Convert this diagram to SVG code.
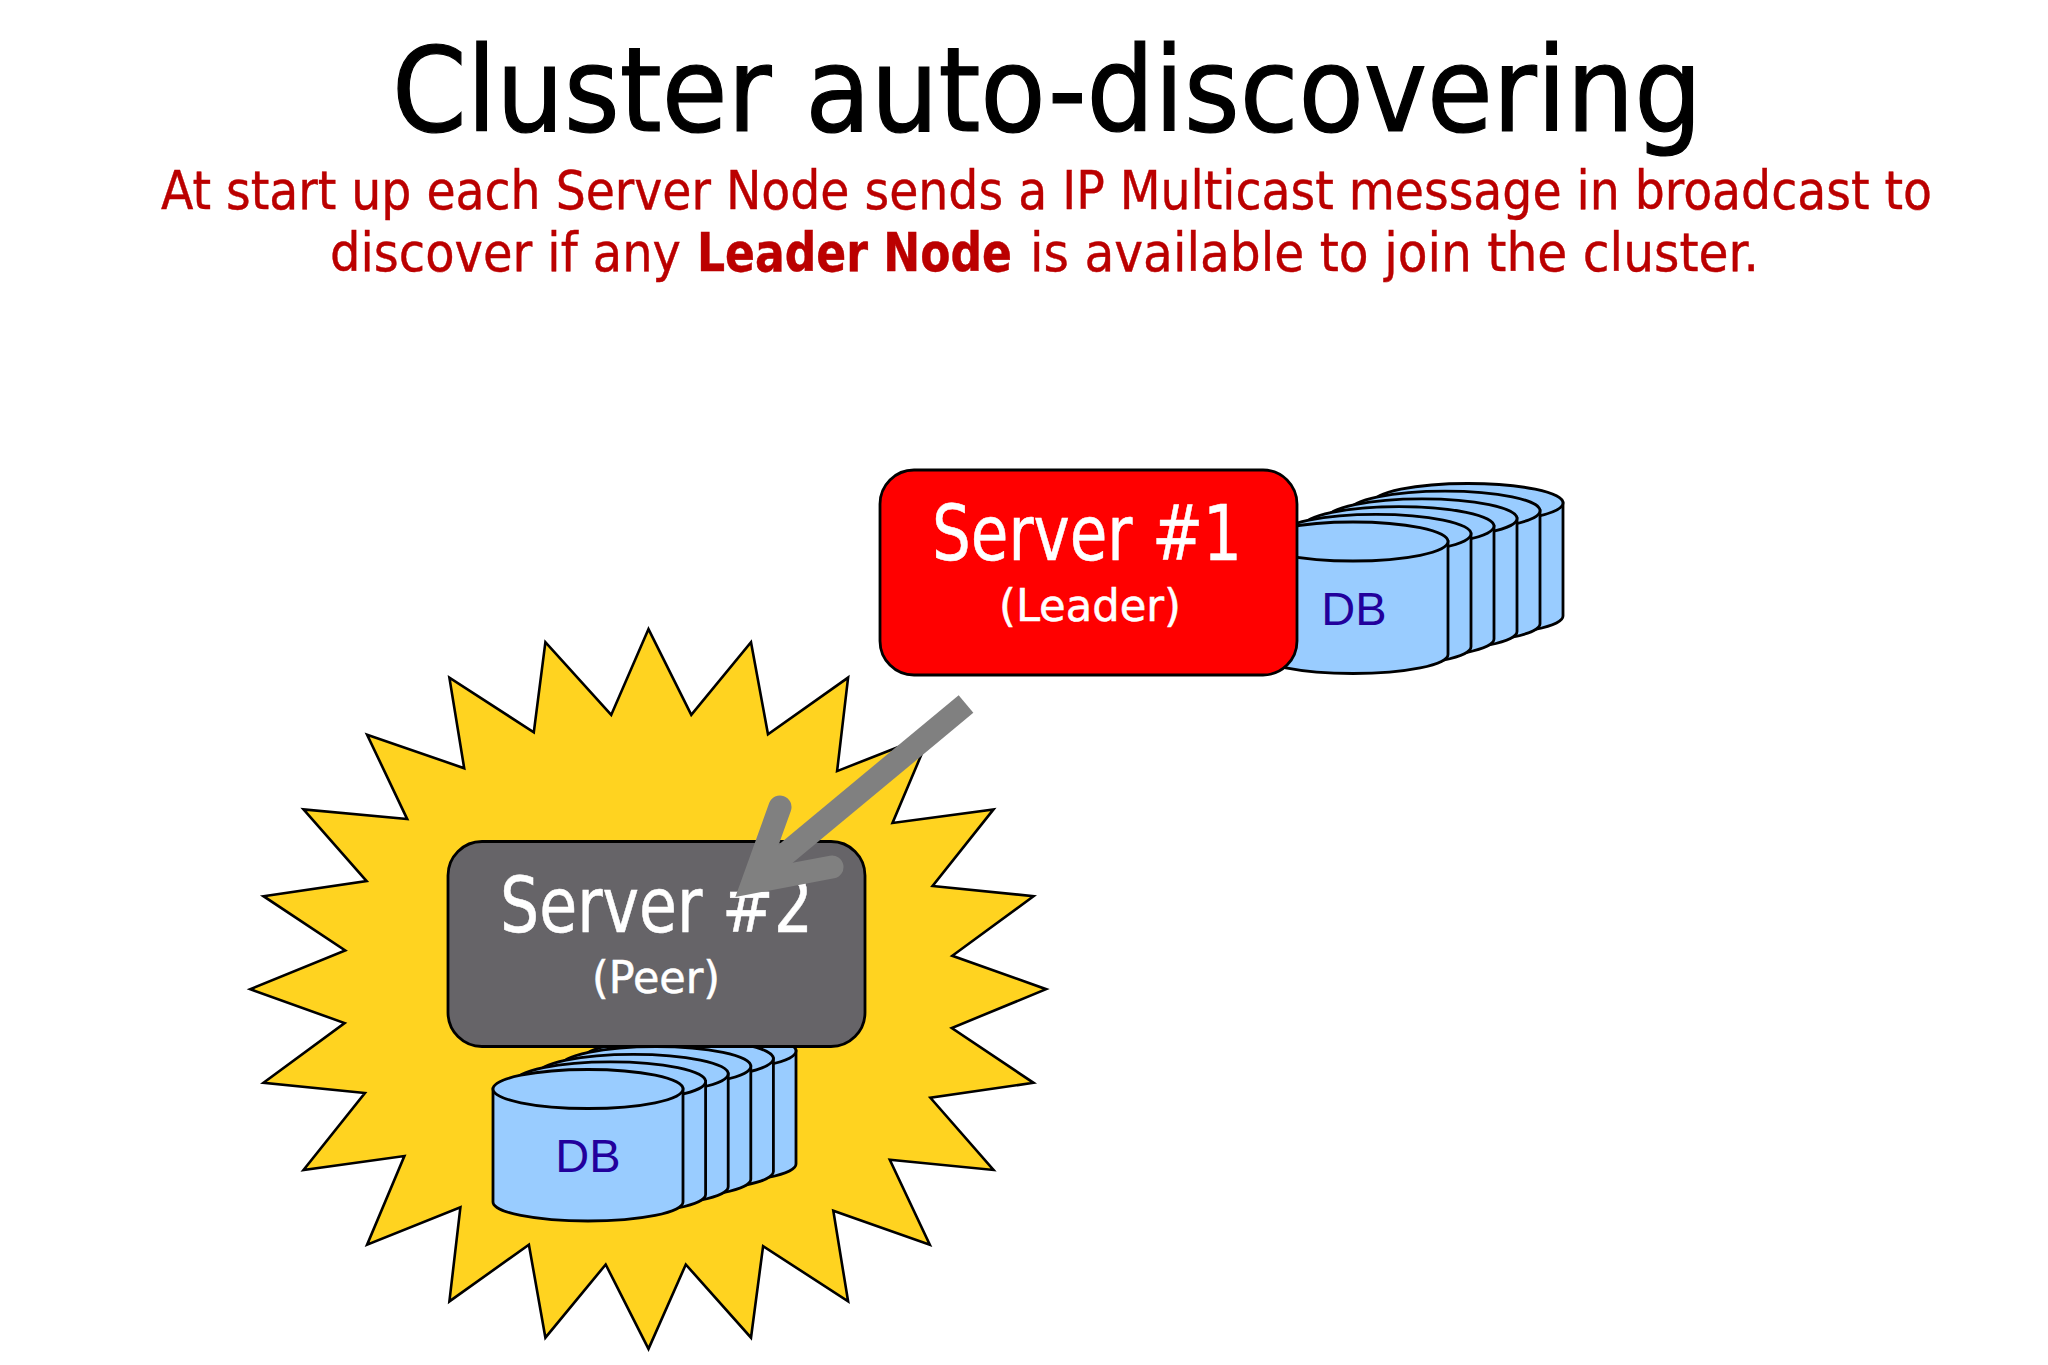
<svg xmlns="http://www.w3.org/2000/svg" xmlns:xlink="http://www.w3.org/1999/xlink" width="2048" height="1365" viewBox="0 0 2048 1365">
<style>
.t{font-family:"DejaVu Sans Condensed","DejaVu Sans","Liberation Sans",sans-serif;font-stretch:condensed}
.red{fill:#bb0000;font-size:53px;stroke:#bb0000;stroke-width:.4}
.w{fill:#fff;stroke:#fff;stroke-width:.5}
.db{font-family:"Liberation Sans",Arial,sans-serif;font-size:47px;fill:#22009c}
.box{stroke:#000;stroke-width:2.8}
.star{fill:#ffd320;stroke:#000;stroke-width:2.6}
.cyl{fill:#99ccff;stroke:#000;stroke-width:2.8}
.arrow{fill:none;stroke:#808080;stroke-width:23}
</style>
<defs>
<g id="cyl" class="cyl">
<path d="M-95,0V113A95,19 0 0 0 95,113V0Z"/>
<ellipse cx="0" cy="0" rx="95" ry="19.5"/>
</g>
</defs>
<rect width="2048" height="1365" fill="#fff"/>
<g id="title">
<text class="t" x="392" y="131" font-size="117" fill="#000" stroke="#000" stroke-width="1.2" textLength="1310" lengthAdjust="spacingAndGlyphs">Cluster auto-discovering</text>
<text class="t red" x="161" y="209" textLength="1771" lengthAdjust="spacingAndGlyphs">At start up each Server Node sends a IP Multicast message in broadcast to</text>
<text class="t red" x="330" y="271" textLength="351" lengthAdjust="spacingAndGlyphs">discover if any</text>
<text class="t red" x="697" y="271" font-weight="700" textLength="315" lengthAdjust="spacingAndGlyphs">Leader Node</text>
<text class="t red" x="1030" y="271" textLength="729" lengthAdjust="spacingAndGlyphs">is available to join the cluster.</text>
</g>
<polygon id="burst" class="star" points="648.5,629.1 691.3,714.9 751,642.2 768,734.3 848.1,677.6 837.1,771.1 929.8,734.7 892.5,823 993.5,809.4 932.6,886 1033.5,896.2 952.3,955.8 1046.1,989.2 951.8,1028 1033.5,1082.8 930.4,1097.8 993.5,1170 889.8,1159.8 929.8,1244.7 833.3,1210.7 848.1,1301.4 763.1,1246.1 751,1337.7 685.8,1264.5 648.5,1348.9 605.7,1264.5 545.4,1337.7 528.9,1244.7 449.4,1301.4 460.4,1207.3 367.1,1244.7 404.4,1156 303.5,1170 364.9,1093 263.5,1082.8 344.6,1023.1 250.3,989.2 345.2,950.4 263.5,896.2 366.6,881.1 303.5,809.4 407.2,819.1 367.1,734.7 464.2,768.2 449.4,677.6 533.8,732.3 545.4,642.2 611.2,714.9"/>
<g id="db2">
<use xlink:href="#cyl" href="#cyl" x="701" y="1051"/>
<use xlink:href="#cyl" href="#cyl" x="678.4" y="1058.6"/>
<use xlink:href="#cyl" href="#cyl" x="655.8" y="1066.2"/>
<use xlink:href="#cyl" href="#cyl" x="633.2" y="1073.8"/>
<use xlink:href="#cyl" href="#cyl" x="610.6" y="1081.4"/>
<use xlink:href="#cyl" href="#cyl" x="588" y="1089"/>
<text class="db" x="588" y="1172" text-anchor="middle">DB</text>
</g>
<g id="server2">
<rect class="box" x="448" y="841.5" width="417" height="205" rx="34" fill="#666468"/>
<text class="t w" x="500" y="932" font-size="76" textLength="313" lengthAdjust="spacingAndGlyphs">Server #2</text>
<text class="t w" x="592" y="993" font-size="45" textLength="128" lengthAdjust="spacingAndGlyphs">(Peer)</text>
</g>
<g id="db1">
<use xlink:href="#cyl" href="#cyl" x="1468" y="503"/>
<use xlink:href="#cyl" href="#cyl" x="1445" y="510.7"/>
<use xlink:href="#cyl" href="#cyl" x="1422" y="518.4"/>
<use xlink:href="#cyl" href="#cyl" x="1399" y="526.1"/>
<use xlink:href="#cyl" href="#cyl" x="1376" y="533.8"/>
<use xlink:href="#cyl" href="#cyl" x="1353" y="541.5"/>
<text class="db" x="1354" y="625" text-anchor="middle">DB</text>
</g>
<g id="server1">
<rect class="box" x="880" y="470" width="417" height="205" rx="34" fill="#ff0000"/>
<text class="t w" x="932" y="560" font-size="76" textLength="310" lengthAdjust="spacingAndGlyphs">Server #1</text>
<text class="t w" x="999" y="621" font-size="45" textLength="182" lengthAdjust="spacingAndGlyphs">(Leader)</text>
</g>
<g id="connectors">
<path class="arrow" d="M966,704L754,880"/>
<path class="arrow" stroke-linecap="round" stroke-linejoin="miter" stroke-miterlimit="10" d="M780,807L753,882L832,867"/>
</g>
</svg>
